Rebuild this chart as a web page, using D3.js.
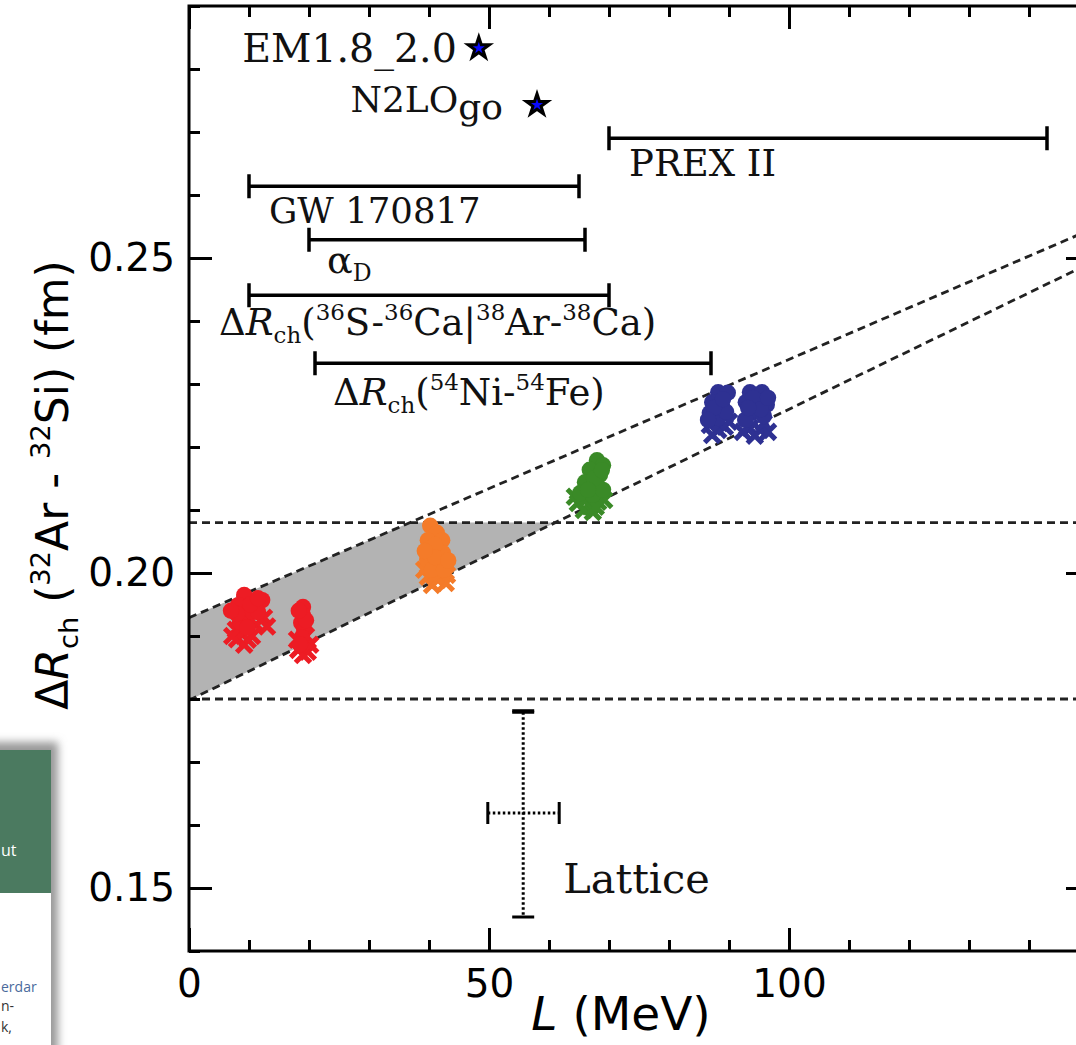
<!DOCTYPE html>
<meta charset="utf-8">
<title>Delta R_ch vs L</title>
<style>

body {
  margin: 0;
  background: #fff;
}

.frame {
  fill: none;
  stroke: #000;
  stroke-width: 3px;
}

.axis path {
  display: none;
}

.axis line {
  stroke: #000;
  stroke-width: 3px;
}

.axis text {
  font-family: "DejaVu Sans", sans-serif;
  font-size: 39px;
  fill: #000;
}

.guide {
  fill: none;
  stroke: #222;
  stroke-width: 2.8px;
  stroke-dasharray: 8,5;
}

.band {
  fill: #b3b3b3;
}

.bar {
  stroke: #000;
  stroke-width: 3.5px;
  fill: none;
}

.note {
  font-family: "DejaVu Serif", serif;
  fill: #111;
}

.title {
  font-family: "DejaVu Sans", sans-serif;
  fill: #000;
}

.page {
  font-family: "Open Sans", sans-serif;
  font-size: 14px;
}

</style>
<body>
<script src="https://d3js.org/d3.v7.min.js"></script>
<script>

var width = 1076,
    height = 1045;

// axis ranges
var lDomain = [0, 150],
    rDomain = [0.14, 0.29];

var xMajor = [0, 50, 100, 150],
    xLabels = ["0", "50", "100", ""],
    xMinor = d3.range(0, 151, 10),
    yMajor = [0.15, 0.20, 0.25],
    yMinor = d3.range(14, 30).map(function(d) { return d / 100; });

// the two dashed correlation lines, by their end points [L, dR]
var upperLine = [[0, 0.1929], [150, 0.2544]],
    lowerLine = [[0, 0.1798], [150, 0.2491]];

// horizontal dashed limits
var limits = [0.180, 0.208];

// model points, [L, dR]
var redCircles = [[9.2,0.1965],[12.2,0.1957],[8.2,0.1949],[9.2,0.1933],[10.5,0.1938],[8.5,0.1922],[9.7,0.1913],[11.5,0.1938],[10.2,0.1950],[8.0,0.1935],
                  [7.0,0.1940],[11.5,0.1960],
                  [19.0,0.1946],[19.0,0.1933],[18.7,0.1921],[19.2,0.1910],[18.8,0.1898],[18.5,0.1887],[19.5,0.1925],[18.3,0.1940]],
    redCrosses = [[8.5,0.1906],[9.8,0.1894],[11.2,0.1918],[12.5,0.1929],[9.2,0.1886],[7.8,0.1910],[10.5,0.1900],[8.0,0.1895],
                  [13.0,0.1915],[7.2,0.1900],
                  [18.2,0.1878],[19.8,0.1875],[19.0,0.1870],[18.0,0.1894],[20.2,0.1886],[19.5,0.1900]];

var orangeCircles = [[40.2,0.2075],[41.3,0.2064],[39.8,0.2052],[42.2,0.2052],[40.5,0.2037],[42.3,0.2032],[39.7,0.2021],[41.8,0.2016],[40.5,0.2005],[42.5,0.2005],
                     [41.0,0.2045],[41.0,0.2025],[43.2,0.2020],[39.3,0.2035]],
    orangeCrosses = [[39.8,0.1994],[41.5,0.1989],[42.8,0.1984],[40.5,0.1981],[39.2,0.2005],[43.0,0.1997],[41.0,0.1995],[42.0,0.2000]];

var greenCircles = [[68.0,0.2179],[69.0,0.2171],[66.8,0.2164],[68.5,0.2156],[66.0,0.2144],[68.0,0.2140],[65.2,0.2127],[67.3,0.2124],[69.0,0.2132],
                    [67.5,0.2150],[66.5,0.2132],[68.8,0.2163]],
    greenCrosses = [[64.8,0.2111],[66.8,0.2106],[65.8,0.2100],[68.2,0.2113],[64.3,0.2121],[67.3,0.2097],[69.2,0.2116],[66.0,0.2115],[67.8,0.2105]];

var blueCircles = [[88.2,0.2287],[89.8,0.2286],[87.2,0.2271],[88.8,0.2267],[86.8,0.2254],[88.2,0.2246],[89.5,0.2256],[87.5,0.2262],[89.0,0.2276],[86.5,0.2243],
                   [93.5,0.2287],[95.5,0.2287],[92.8,0.2271],[94.8,0.2271],[96.3,0.2267],[93.8,0.2254],[95.8,0.2249],[92.7,0.2243],
                   [94.0,0.2278],[95.3,0.2260],[96.5,0.2278],[93.2,0.2262]],
    blueCrosses = [[86.8,0.2235],[88.2,0.2227],[87.2,0.2219],[89.3,0.2232],[88.5,0.2238],[90.0,0.2240],
                   [93.5,0.2230],[95.2,0.2227],[96.5,0.2224],[94.3,0.2218],[92.3,0.2224],[95.8,0.2238]];

var clusterColors = ["#ed1c24", "#f47b29", "#3a8a27", "#2e3192"];

// constraints shown as horizontal bars: name, L low, L high, dR
var barNames = ["PREX II", "GW 170817", "alphaD", "dR36", "dR54"],
    barLow = [70, 10, 20, 10, 21],
    barHigh = [143, 65, 66, 70, 87],
    barR = [0.2690, 0.2614, 0.2529, 0.2441, 0.2333];

// ab initio stars
var starNames = ["EM1.8_2.0", "N2LOgo"],
    starL = [48.3, 58.0],
    starR = [0.2833, 0.2743];

// lattice point with its errors
var latticeL = 55.7, latticeLErr = [49.8, 61.7],
    latticeR = 0.1619, latticeRErr = [0.1454, 0.1779];

var x = d3.scaleLinear().domain(lDomain).range([189, 1089]),
    y = d3.scaleLinear().domain(rDomain).range([951, 6]);

var svg = d3.select("body").append("svg")
    .attr("width", width)
    .attr("height", height);

svg.append("defs").append("clipPath")
    .attr("id", "plot")
  .append("rect")
    .attr("x", x(0)).attr("y", y(0.29))
    .attr("width", x(150) - x(0)).attr("height", y(0.14) - y(0.29));

var plot = svg.append("g").attr("clip-path", "url(#plot)");

// grey band between the lines and inside the limits
function lineAt(seg, l) {
  var t = (l - seg[0][0]) / (seg[1][0] - seg[0][0]);
  return seg[0][1] + t * (seg[1][1] - seg[0][1]);
}
function lineInv(seg, r) {
  var t = (r - seg[0][1]) / (seg[1][1] - seg[0][1]);
  return seg[0][0] + t * (seg[1][0] - seg[0][0]);
}
var band = [
  [0, Math.max(lineAt(lowerLine, 0), limits[0])],
  [0, lineAt(upperLine, 0)],
  [lineInv(upperLine, limits[1]), limits[1]],
  [lineInv(lowerLine, limits[1]), limits[1]],
  [Math.max(lineInv(lowerLine, limits[0]), 0), limits[0]]
];
plot.append("path")
    .attr("class", "band")
    .attr("d", "M" + band.map(function(p) { return [x(p[0]), y(p[1])]; }).join("L") + "Z");

var line = d3.line().x(function(d) { return x(d[0]); }).y(function(d) { return y(d[1]); });

plot.selectAll(".diag")
    .data([upperLine, lowerLine])
  .enter().append("path")
    .attr("class", "guide")
    .attr("d", line);

plot.selectAll(".limit")
    .data(limits)
  .enter().append("line")
    .attr("class", "guide")
    .attr("x1", x(0)).attr("x2", x(150))
    .attr("y1", y).attr("y2", y);

// clusters
var clusters = [
  [redCircles, redCrosses],
  [orangeCircles, orangeCrosses],
  [greenCircles, greenCrosses],
  [blueCircles, blueCrosses]
];

clusters.forEach(function(c, i) {
  var g = plot.append("g");
  g.selectAll("path")
      .data(c[1])
    .enter().append("path")
      .attr("d", function(d) {
        var px = x(d[0]), py = y(d[1]), s = 7.5;
        return "M" + (px - s) + "," + (py - s) + "L" + (px + s) + "," + (py + s) +
               "M" + (px - s) + "," + (py + s) + "L" + (px + s) + "," + (py - s);
      })
      .attr("stroke", clusterColors[i])
      .attr("stroke-width", 5);
  g.selectAll("circle")
      .data(c[0])
    .enter().append("circle")
      .attr("cx", function(d) { return x(d[0]); })
      .attr("cy", function(d) { return y(d[1]); })
      .attr("r", 8.2)
      .attr("fill", clusterColors[i]);
});

// rich text helper: [string, kind]
function rich(text, segs, size) {
  var shift = 0;
  text.attr("font-size", size);
  segs.forEach(function(s) {
    var k = s[1],
        target = k === "sup" ? -0.42 * size : k === "sub" ? 0.22 * size : k === "low" ? 0.19 * size : 0;
    text.append("tspan")
        .attr("dy", target - shift)
        .attr("font-size", (k === "sup" || k === "sub") ? 0.62 * size : size)
        .attr("font-style", k === "i" ? "italic" : null)
        .text(s[0]);
    shift = target;
  });
}

var barLabels = {
  "PREX II": [["PREX II", ""]],
  "GW 170817": [["GW 170817", ""]],
  "alphaD": [["\u03b1", ""], ["D", "sub"]],
  "dR36": [["\u0394", ""], ["R", "i"], ["ch", "sub"], ["(", ""], ["36", "sup"], ["S-", ""], ["36", "sup"], ["Ca|", ""],
           ["38", "sup"], ["Ar-", ""], ["38", "sup"], ["Ca)", ""]],
  "dR54": [["\u0394", ""], ["R", "i"], ["ch", "sub"], ["(", ""], ["54", "sup"], ["Ni-", ""], ["54", "sup"], ["Fe)", ""]]
};
var barLabelOffset = [[20, 38], [20, 37], [18, 33], [-30, 40], [18, 42]],
    barLabelSize = [37, 35.5, 38, 37, 37];

barNames.forEach(function(name, i) {
  var g = svg.append("g"),
      x0 = x(barLow[i]), x1 = x(barHigh[i]), yy = y(barR[i]);
  g.append("path")
      .attr("class", "bar")
      .attr("d", "M" + x0 + "," + yy + "H" + x1 +
                 "M" + x0 + "," + (yy - 12) + "V" + (yy + 12) +
                 "M" + x1 + "," + (yy - 12) + "V" + (yy + 12));
  var t = g.append("text")
      .attr("class", "note")
      .attr("x", x0 + barLabelOffset[i][0])
      .attr("y", yy + barLabelOffset[i][1]);
  rich(t, barLabels[name], barLabelSize[i]);
});

// stars
var star = d3.symbol().type(d3.symbolStar).size(140);
var starLabels = [[["EM1.8_2.0", ""]], [["N2LO", ""], ["go", "low"]]],
    starLabelOffset = [[-22, 14], [-34, 7]],
    starLabelSize = [39.5, 36];

starNames.forEach(function(name, i) {
  svg.append("path")
      .attr("d", star)
      .attr("transform", "translate(" + x(starL[i]) + "," + y(starR[i]) + ")")
      .attr("fill", "#0a0aff")
      .attr("stroke", "#000")
      .attr("stroke-width", 3)
      .attr("stroke-linejoin", "miter");
  var t = svg.append("text")
      .attr("class", "note")
      .attr("text-anchor", "end")
      .attr("x", x(starL[i]) + starLabelOffset[i][0])
      .attr("y", y(starR[i]) + starLabelOffset[i][1]);
  rich(t, starLabels[i], starLabelSize[i]);
});

// lattice
var lat = svg.append("g");
lat.append("line")
    .attr("x1", x(latticeL)).attr("x2", x(latticeL))
    .attr("y1", y(latticeRErr[1])).attr("y2", y(latticeRErr[0]))
    .attr("stroke", "#000").attr("stroke-width", 3).attr("stroke-dasharray", "2.5,2.5");
lat.append("line")
    .attr("x1", x(latticeLErr[0])).attr("x2", x(latticeLErr[1]))
    .attr("y1", y(latticeR)).attr("y2", y(latticeR))
    .attr("stroke", "#000").attr("stroke-width", 3).attr("stroke-dasharray", "2.5,2.5");
lat.append("path")
    .attr("d", "M" + (x(latticeL) - 11) + "," + y(latticeRErr[1]) + "h22" +
               "M" + (x(latticeL) - 11) + "," + y(latticeRErr[0]) + "h22")
    .attr("stroke", "#000").attr("stroke-width", 3);
lat.append("path")
    .attr("d", "M" + (x(latticeL) - 11) + "," + (y(latticeRErr[1]) - 1.5) + "h22")
    .attr("stroke", "#000").attr("stroke-width", 3);
lat.append("path")
    .attr("d", "M" + x(latticeLErr[0]) + "," + (y(latticeR) - 11) + "v22" +
               "M" + x(latticeLErr[1]) + "," + (y(latticeR) - 11) + "v22")
    .attr("stroke", "#000").attr("stroke-width", 3);
var lt = lat.append("text")
    .attr("class", "note")
    .attr("x", x(latticeLErr[1]) + 4)
    .attr("y", y(latticeR) + 80);
rich(lt, [["Lattice", ""]], 41.5);

// axes, ticks inward on all four sides
function axis(gen, tr, ticks, size, labels) {
  var a = gen.tickValues(ticks).tickSizeInner(size).tickSizeOuter(0);
  if (labels) a.tickFormat(labels); else a.tickFormat("");
  svg.append("g").attr("class", "axis").attr("transform", tr).call(a);
}

axis(d3.axisBottom(x).tickPadding(18), "translate(0," + y(0.14) + ")", xMinor, -11);
axis(d3.axisBottom(x).tickPadding(18), "translate(0," + y(0.14) + ")", xMajor, -23,
     function(d, i) { return xLabels[i]; });
axis(d3.axisTop(x), "translate(0," + y(0.29) + ")", xMinor, -11);
axis(d3.axisTop(x), "translate(0," + y(0.29) + ")", xMajor, -23);
axis(d3.axisLeft(y).tickPadding(14), "translate(" + x(0) + ",0)", yMinor, -11);
axis(d3.axisLeft(y).tickPadding(14), "translate(" + x(0) + ",0)", yMajor, -23, d3.format(".2f"));
axis(d3.axisRight(y), "translate(" + x(150) + ",0)", yMinor, -11);
axis(d3.axisRight(y), "translate(" + x(150) + ",0)", yMajor, -23);

svg.append("rect")
    .attr("class", "frame")
    .attr("x", x(0)).attr("y", y(0.29))
    .attr("width", x(150) - x(0)).attr("height", y(0.14) - y(0.29));

// axis titles
var xt = svg.append("text")
    .attr("class", "title")
    .attr("text-anchor", "middle")
    .attr("x", 621).attr("y", 1030);
rich(xt, [["L", "i"], [" (MeV)", ""]], 47);

var yt = svg.append("text")
    .attr("class", "title")
    .attr("text-anchor", "middle")
    .attr("transform", "translate(68,485)rotate(-90)");
rich(yt, [["\u0394", ""], ["R", "i"], ["ch", "sub"], [" (", ""], ["32", "sup"], ["Ar - ", ""], ["32", "sup"], ["Si) (fm)", ""]], 44);

// piece of the page behind the figure, bottom left
var f = svg.append("defs").append("filter").attr("id", "shadow").attr("x", "-50%").attr("y", "-10%").attr("width", "200%").attr("height", "130%");
f.append("feGaussianBlur").attr("stdDeviation", 4);
svg.append("rect").attr("x", -10).attr("y", 742).attr("width", 68).attr("height", 320)
    .attr("fill", "#999").attr("filter", "url(#shadow)");
svg.append("rect").attr("x", 0).attr("y", 750).attr("width", 51).attr("height", 300).attr("fill", "#fff");
svg.append("rect").attr("x", 0).attr("y", 750).attr("width", 51).attr("height", 143).attr("fill", "#4b7a60");
svg.append("text").attr("class", "page").attr("x", 1).attr("y", 856).attr("fill", "#fff")
    .style("font-size", "16px").text("ut");
svg.append("text").attr("class", "page").attr("x", 1).attr("y", 992).attr("fill", "#4a6a9c").text("erdar");
svg.append("text").attr("class", "page").attr("x", 1).attr("y", 1011).attr("fill", "#333").text("n-");
svg.append("text").attr("class", "page").attr("x", 1).attr("y", 1032).attr("fill", "#333").text("k,");

</script>
</body>
</html>
